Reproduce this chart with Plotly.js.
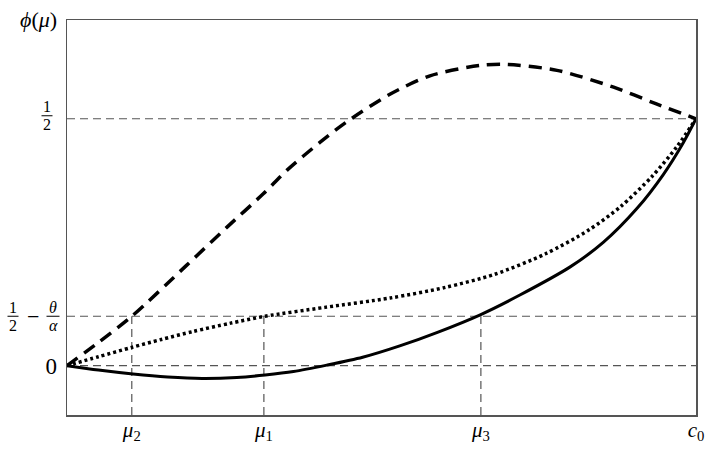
<!DOCTYPE html>
<html>
<head>
<meta charset="utf-8">
<script src="https://cdn.plot.ly/plotly-3.0.1.min.js"></script>
<style>
  html, body { margin: 0; padding: 0; background: #fff; }
  #chart { width: 715px; height: 452px; }
</style>
</head>
<body>
<div id="chart"></div>
<script>
// mu axis runs from 0 to c0 = 1, phi(mu) from -0.1 to 0.7
let muTicks = [0.103, 0.313, 0.658, 1]
let muTickText = ['<i>μ</i><sub>2</sub>', '<i>μ</i><sub>1</sub>', '<i>μ</i><sub>3</sub>', '<i>c</i><sub>0</sub>']
let levels = [0, 0.1, 0.5]          // 0, 1/2 - theta/alpha, 1/2
let guideMu = [0.103, 0.313, 0.658] // vertical guides up to 1/2 - theta/alpha

let solidX = [0, 0.05, 0.105, 0.16, 0.215, 0.27, 0.315, 0.36, 0.413, 0.47, 0.529, 0.59, 0.657, 0.72, 0.8, 0.853, 0.906, 0.948, 0.98, 1]
let solidY = [0, -0.009, -0.017, -0.023, -0.026, -0.024, -0.019, -0.012, 0.001, 0.017, 0.04, 0.068, 0.103, 0.143, 0.2, 0.25, 0.318, 0.387, 0.452, 0.5]

let dottedX = [0, 0.05, 0.103, 0.15, 0.2, 0.26, 0.315, 0.41, 0.514, 0.6, 0.68, 0.76, 0.83, 0.88, 0.93, 0.97, 1]
let dottedY = [0, 0.018, 0.037, 0.053, 0.069, 0.086, 0.1, 0.118, 0.137, 0.158, 0.185, 0.226, 0.275, 0.322, 0.383, 0.444, 0.5]

let dashedX = [0, 0.05, 0.103, 0.19, 0.254, 0.312, 0.349, 0.402, 0.445, 0.514, 0.577, 0.657, 0.699, 0.779, 0.869, 0.937, 1]
let dashedY = [0, 0.047, 0.1, 0.203, 0.28, 0.348, 0.395, 0.452, 0.494, 0.55, 0.587, 0.608, 0.61, 0.598, 0.564, 0.53, 0.5]

let serif = 'Liberation Serif, DejaVu Serif, serif'
let grey = '#555'

let curves = [
  {x: solidX, y: solidY, type: 'scatter', mode: 'lines',
   line: {color: '#000', width: 3, shape: 'spline', smoothing: 0.8}},
  {x: dottedX, y: dottedY, type: 'scatter', mode: 'lines',
   line: {color: '#000', width: 3.5, dash: '3px,3px', shape: 'spline', smoothing: 0.8}},
  {x: dashedX, y: dashedY, type: 'scatter', mode: 'lines',
   line: {color: '#000', width: 3.5, dash: '13px,8px', shape: 'spline', smoothing: 0.8}}
]

let shapes = []
levels.forEach(v => {
  shapes.push({type: 'line', xref: 'x', yref: 'y', x0: 0, x1: 1, y0: v, y1: v,
    layer: 'below', line: {color: grey, width: 1.2, dash: '8px,5px'}})
})
guideMu.forEach(m => {
  shapes.push({type: 'line', xref: 'x', yref: 'y', x0: m, x1: m, y0: -0.1, y1: levels[1],
    layer: 'below', line: {color: grey, width: 1.2, dash: '8px,5px'}})
})

// stacked fractions for the y labels, placed by pixel offset from the axis
let annotations = []
let px2paper = px => (px - 67) / 629
function fraction(num, den, cx, yv, lift, halfw) {
  annotations.push({xref: 'paper', yref: 'y', x: px2paper(cx), y: yv, text: num,
    showarrow: false, xanchor: 'center', yanchor: 'middle', yshift: lift + 9,
    font: {family: serif, size: 16, color: '#000'}})
  annotations.push({xref: 'paper', yref: 'y', x: px2paper(cx), y: yv, text: den,
    showarrow: false, xanchor: 'center', yanchor: 'middle', yshift: lift - 9,
    font: {family: serif, size: 16, color: '#000'}})
  shapes.push({type: 'line', xref: 'paper', yref: 'y', ysizemode: 'pixel', yanchor: yv,
    x0: px2paper(cx - halfw), x1: px2paper(cx + halfw), y0: lift, y1: lift,
    line: {color: '#000', width: 1}})
}
fraction('1', '2', 47, levels[2], 3, 5.5)
fraction('1', '2', 13, levels[1], 0, 5.5)
fraction('<i>θ</i>', '<i>α</i>', 53, levels[1], 0, 6.5)
annotations.push({xref: 'paper', yref: 'y', x: px2paper(33), y: levels[1], text: '−',
  showarrow: false, xanchor: 'center', yanchor: 'middle',
  font: {family: serif, size: 22, color: '#000'}})
annotations.push({xref: 'paper', yref: 'paper', x: px2paper(38), y: 1, yshift: 1,
  text: '<i>ϕ</i>(<i>μ</i>)', showarrow: false, xanchor: 'center', yanchor: 'middle',
  font: {family: serif, size: 22, color: '#000'}})

let layout = {
  width: 715,
  height: 452,
  margin: {l: 67, r: 19, t: 20, b: 37},
  paper_bgcolor: '#fff',
  plot_bgcolor: '#fff',
  showlegend: false,
  xaxis: {
    range: [0, 1], showgrid: false, zeroline: false,
    showline: true, mirror: true, linecolor: grey, linewidth: 1.5,
    tickmode: 'array', tickvals: muTicks, ticktext: muTickText, ticks: '',
    ticklabelstandoff: -5,
    tickfont: {family: serif, size: 21, color: '#000'}
  },
  yaxis: {
    range: [-0.1, 0.7], showgrid: false, zeroline: false,
    showline: true, mirror: true, linecolor: grey, linewidth: 1.5,
    tickmode: 'array', tickvals: [levels[0]], ticktext: ['0'], ticks: '',
    ticklabelstandoff: 4,
    tickfont: {family: serif, size: 23, color: '#000'}
  },
  shapes: shapes,
  annotations: annotations
}

Plotly.newPlot('chart', curves, layout, {displayModeBar: false, staticPlot: true})
</script>
</body>
</html>
